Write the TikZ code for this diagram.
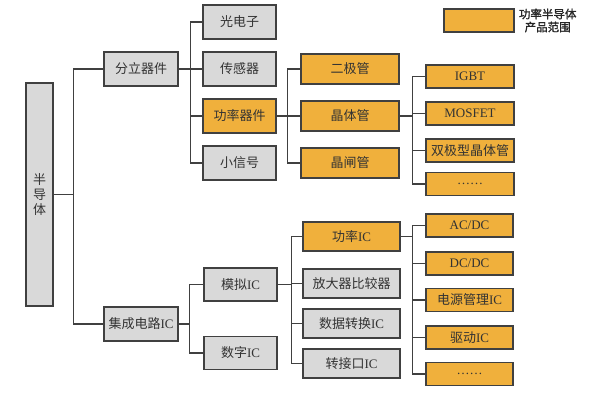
\documentclass[tikz,border=0pt]{standalone}
\usepackage{fontspec}
\setmainfont{Liberation Serif}
\newfontfamily\cjk{Noto Sans CJK SC}
\newfontfamily\cjkb[FakeBold=1.5]{Noto Sans CJK SC}
\usepackage{xcolor}
\usepackage{tikz}
\usetikzlibrary{positioning}
\definecolor{boxgray}{HTML}{D9D9D9}
\definecolor{boxorange}{HTML}{F0B03C}
\definecolor{edge}{HTML}{404040}
\newcommand\ltn[1]{{\rmfamily #1}}

\tikzset{
  gbox/.style={draw=edge,fill=boxgray,line width=1.5pt,text=black!80,inner sep=0pt,
    font=\cjk\fontsize{13}{15}\selectfont},
  obox/.style={gbox,fill=boxorange},
  link/.style={draw=edge,line width=1.3pt}
}

\begin{document}
\begin{tikzpicture}[x=1pt,y=-1pt]
  \useasboundingbox (0,0) rectangle (600,393);
  % root and first level
  \node[gbox,minimum width=27pt,minimum height=223pt,align=center] (bdt) at (39.5,194.5) {半\\导\\体};
  \node[gbox,minimum width=74pt,minimum height=34pt] (fl) at (141,69) {分立器件};
  \node[gbox,minimum width=74pt,minimum height=34pt] (jc) at (141,324) {集成电路\ltn{IC}};
  \draw[link] (bdt.east) -- ++(20,0) coordinate (b0);
  \draw[link] (fl.west) -| (b0);
  \draw[link] (jc.west) -| (b0);
  % discrete devices
  \draw[link] (fl.east) -- ++(12,0) coordinate (b1);
  \foreach \i/\y/\c/\t in {1/22/boxgray/光电子,2/69/boxgray/传感器,3/116/boxorange/功率器件,4/163/boxgray/小信号}{
    \node[gbox,fill=\c,minimum width=73pt,minimum height=34pt] (d\i) at (239.5,\y) {\t};
    \draw[link] (d\i.west) -| (b1);
  }
  % power devices
  \draw[link] (d3.east) -- ++(11,0) coordinate (b2);
  \foreach \i/\y/\t in {1/69/二极管,2/116/晶体管,3/163/晶闸管}{
    \node[obox,minimum width=98pt,minimum height=30pt] (p\i) at (350,\y) {\t};
    \draw[link] (p\i.west) -| (b2);
  }
  % transistors
  \draw[link] (p2.east) -- ++(13,0) coordinate (b3);
  \foreach \i/\y/\t in {1/76.5/\ltn{IGBT},2/113.5/\ltn{MOSFET},3/150.5/双极型晶体管,4/184/\ltn{……}}{
    \node[obox,minimum width=88pt,minimum height=23pt] (t\i) at (470,\y) {\t};
    \draw[link] (t\i.west) -| (b3);
  }
  % integrated circuits
  \draw[link] (jc.east) -- ++(11,0) coordinate (b4);
  \foreach \i/\y/\t in {1/284.5/模拟\ltn{IC},2/353/数字\ltn{IC}}{
    \node[gbox,minimum width=73pt,minimum height=33pt] (a\i) at (240.5,\y) {\t};
    \draw[link] (a\i.west) -| (b4);
  }
  % analog IC
  \draw[link] (a1.east) -- ++(14,0) coordinate (b5);
  \foreach \i/\y/\c/\t in {1/236.5/boxorange/功率\ltn{IC},2/283.5/boxgray/放大器比较器,3/323.5/boxgray/数据转换\ltn{IC},4/363.5/boxgray/转接口\ltn{IC}}{
    \node[gbox,fill=\c,minimum width=97pt,minimum height=29pt] (m\i) at (351.5,\y) {\t};
    \draw[link] (m\i.west) -| (b5);
  }
  % power IC
  \draw[link] (m1.east) -- ++(12,0) coordinate (b6);
  \foreach \i/\y/\t in {1/225.5/\ltn{AC/DC},2/263.5/\ltn{DC/DC},3/300/电源管理\ltn{IC},4/337.5/驱动\ltn{IC},5/374/\ltn{……}}{
    \node[obox,minimum width=87pt,minimum height=23pt] (q\i) at (469.5,\y) {\t};
    \draw[link] (q\i.west) -| (b6);
  }
  % legend
  \node[obox,minimum width=70pt,minimum height=23pt] (leg) at (479,20.5) {};
  \node[right=4pt of leg,align=center,inner sep=0pt,text=black!85,
    font=\cjkb\fontsize{11.5}{13}\selectfont] (legtxt) {功率半导体\\产品范围};
\end{tikzpicture}
\end{document}
